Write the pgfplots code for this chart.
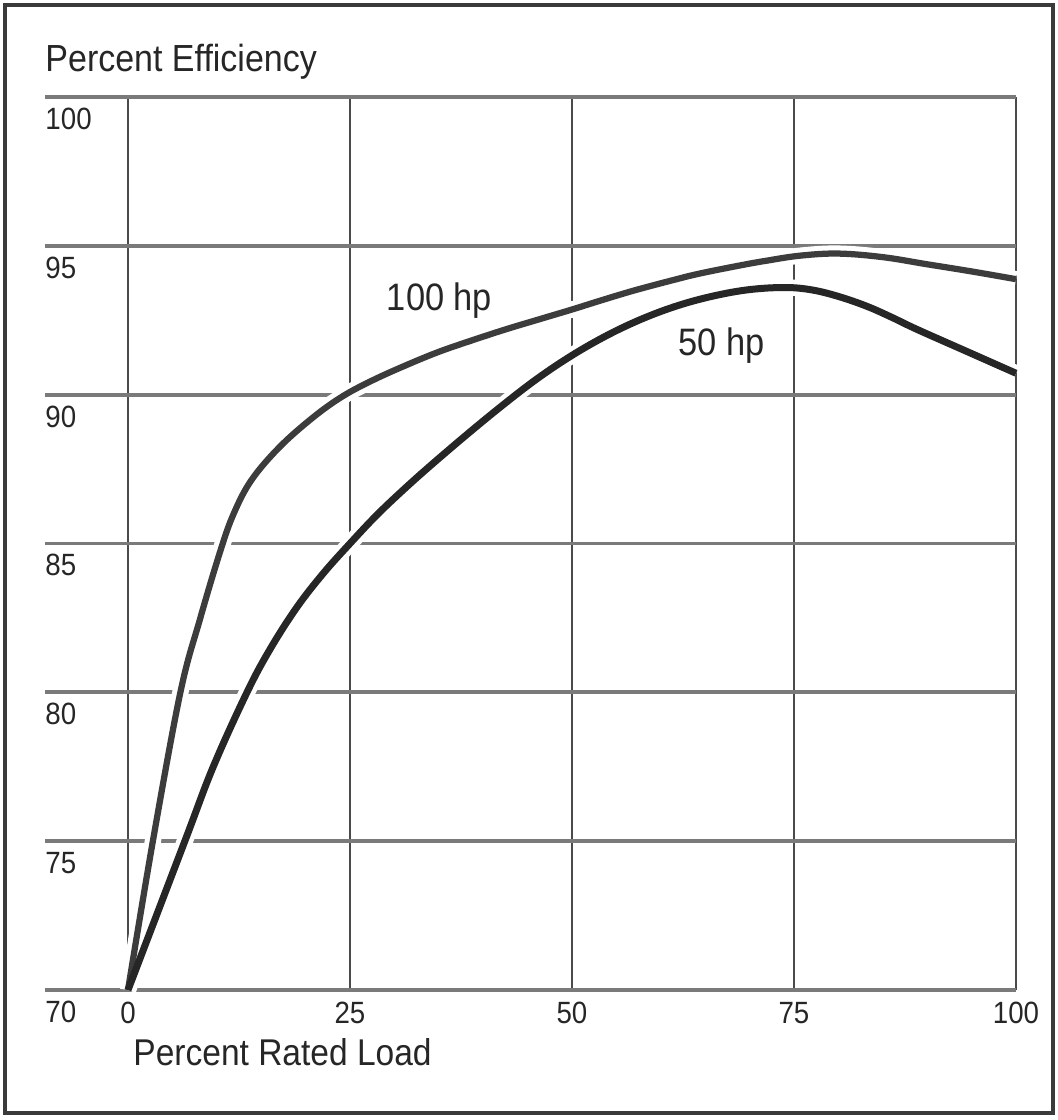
\documentclass[border=0pt]{standalone}
\usepackage{fontspec}
\setmainfont{Liberation Sans}[FakeStretch=0.9]
\usepackage{pgfplots}
\usepackage{pgfplotstable}
\pgfplotsset{compat=1.18}
\definecolor{curveA}{HTML}{3C3C3C}
\definecolor{curveB}{HTML}{262626}
\definecolor{hgrid}{HTML}{7A7A7A}
\definecolor{vgrid}{HTML}{4A4A4A}
\definecolor{frame}{HTML}{3A3A3A}
\pgfplotstableread{
x y
0 70
2.8 75
5.9 80
8.1 82.45
10.4 84.75
11.9 86.0
13.9 87.13
17.1 88.25
20.9 89.25
24.2 89.95
27.6 90.49
31.4 91.0
35.1 91.45
38.9 91.84
42.6 92.2
46.4 92.54
50.1 92.87
53.2 93.16
57 93.5
61.4 93.85
64.4 94.07
68.9 94.34
71.9 94.5
75.7 94.67
80 94.74
85 94.62
90 94.38
95 94.14
100 93.88
}\hpA
\pgfplotstableread{
x y
0 70
6.4 75
9.6 77.5
13.4 80
16 81.45
19 82.85
22 84.0
25 85.0
28 85.95
31 86.8
34 87.6
38 88.62
42 89.6
46 90.52
50 91.32
54 92.0
58 92.56
62 93.0
66 93.32
70 93.53
74 93.6
77 93.52
80 93.3
83.2 92.97
86 92.6
88.8 92.2
94.4 91.46
100 90.72
}\hpB
\begin{document}
\begin{tikzpicture}
\begin{axis}[
  scale only axis,
  width=388.4pt, height=357.2pt,
  xmin=-9.347, xmax=100, ymin=70, ymax=100,
  xtick={0,25,50,75,100},
  ytick={70,75,80,85,90,95,100},
  axis line style={draw=none},
  major tick length=0pt,
  xmajorgrids, ymajorgrids,
  x grid style={vgrid, line width=0.8pt},
  y grid style={hgrid, line width=1.5pt},
  /pgf/number format/assume math mode=true,
  ticklabel style={font=\fontsize{12.3}{14}\selectfont, text=black!85},
  yticklabel style={anchor=north west, inner sep=0pt, yshift=-4.2pt},
  xticklabel style={anchor=north, inner sep=0pt, yshift=-4.6pt},
  clip=false,
]
\addplot[white, line width=6.5pt, smooth, tension=0.6] table {\hpA};
\addplot[white, line width=6.5pt, smooth, tension=0.6] table {\hpB};
\addplot[curveA, line width=2.5pt, smooth, tension=0.6] table {\hpA};
\addplot[curveB, line width=2.8pt, smooth, tension=0.6] table {\hpB};
\node[anchor=base west, inner sep=0pt, font=\fontsize{15.3}{18}\selectfont, text=black!85] at (axis cs:29.1,92.84) {100 hp};
\node[anchor=base west, inner sep=0pt, font=\fontsize{15.3}{18}\selectfont, text=black!85] at (axis cs:61.94,91.33) {50 hp};
\node[anchor=base west, inner sep=0pt, font=\fontsize{15.1}{18}\selectfont, text=black!85] at (rel axis cs:0,1.028) {Percent Efficiency};
\node[anchor=base west, inner sep=0pt, font=\fontsize{14.9}{18}\selectfont, text=black!85] at (rel axis cs:0.0906,-0.0851) {Percent Rated Load};
\draw[frame, line width=1.6pt] (rel axis cs:-0.04119,-0.13774) rectangle (rel axis cs:1.03811,1.10302);
\path (rel axis cs:-0.04634,-0.14558) rectangle (rel axis cs:1.04325,1.10862);
\end{axis}
\end{tikzpicture}
\end{document}
